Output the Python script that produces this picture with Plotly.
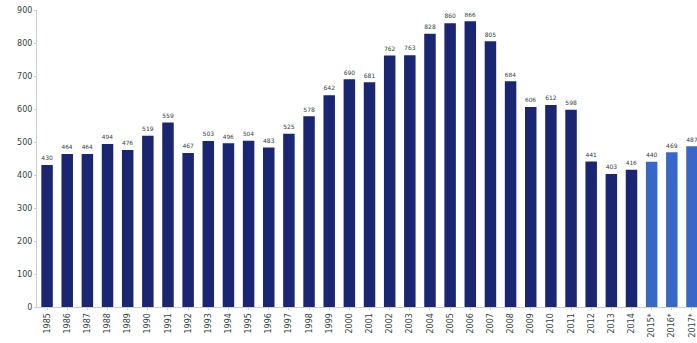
import plotly.graph_objects as go

years = ["1985", "1986", "1987", "1988", "1989", "1990", "1991", "1992", "1993", "1994",
         "1995", "1996", "1997", "1998", "1999", "2000", "2001", "2002", "2003", "2004",
         "2005", "2006", "2007", "2008", "2009", "2010", "2011", "2012", "2013", "2014",
         "2015*", "2016*", "2017*"]
values = [430, 464, 464, 494, 476, 519, 559, 467, 503, 496,
          504, 483, 525, 578, 642, 690, 681, 762, 763, 828,
          860, 866, 805, 684, 606, 612, 598, 441, 403, 416,
          440, 469, 487]
dark = "#1a2672"
light = "#3768c8"
colors = [light if y.endswith("*") else dark for y in years]

fig = go.Figure(go.Bar(
    x=years, y=values, marker_color=colors, marker_line_width=0,
    text=values, textposition="outside", cliponaxis=False,
    textfont=dict(size=7, color="#2f4440", family="DejaVu Sans"),
))
fig.update_layout(
    width=697, height=343, margin=dict(l=37, r=0, t=10, b=36),
    paper_bgcolor="white", plot_bgcolor="white", showlegend=False,
    bargap=0.43,
    font=dict(family="DejaVu Sans", color="#2f4440"),
)
fig.update_xaxes(
    range=[-0.5, 32.25], tickangle=-90, tickfont=dict(size=8, color="#2f4440"),
    showline=True, linecolor="#c8d0d4", linewidth=1, ticks="outside", ticklen=2,
    tickcolor="#c8d0d4", showgrid=False,
)
fig.update_yaxes(
    range=[0, 900], dtick=100, tickfont=dict(size=8, color="#2f4440"),
    showline=True, linecolor="#c8d0d4", linewidth=1, ticks="outside", ticklen=2,
    tickcolor="#c8d0d4", showgrid=False, zeroline=False,
)
fig.write_html("out.html")
